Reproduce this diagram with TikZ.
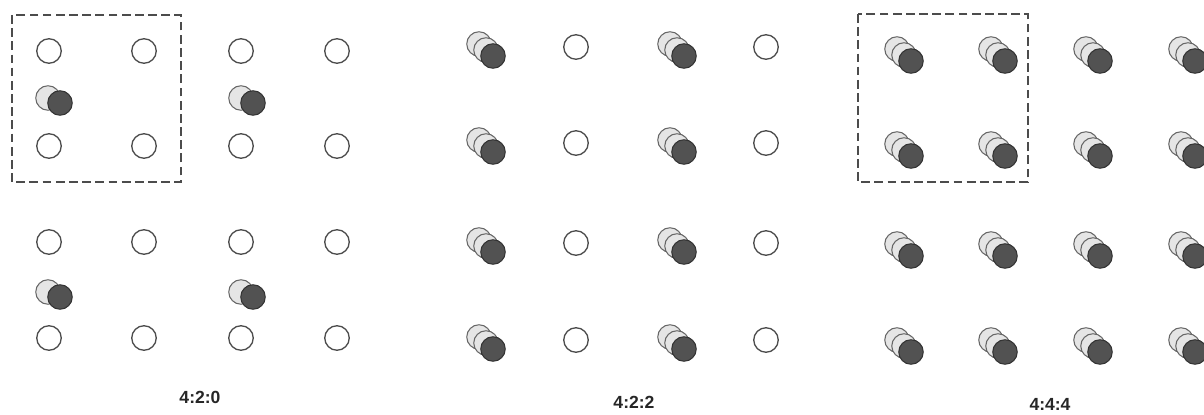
\documentclass[tikz,border=0pt]{standalone}
\usepackage{fontspec}
\setsansfont{Liberation Sans}
\usetikzlibrary{positioning}
\tikzset{
  % Sampling grids
  lumadot/.style    = { circle, draw=black!70, line width=0.75pt, fill=white,
                        minimum size=0.49cm, inner sep=0 },
  chromalight/.style= { circle, draw=black!60, line width=0.6pt, fill=gray!20,
                        minimum size=0.49cm, inner sep=0 },
  chromadark/.style = { circle, draw=black!80, line width=0.6pt, fill=black!68,
                        minimum size=0.49cm, inner sep=0 },
  samplebox/.style  = { dashed, dash pattern=on 5pt off 2.5pt, line width=0.9pt, black!70 },
  schemelabel/.style= { font=\sffamily\bfseries\fontsize{10}{12}\selectfont, text=black!85 }
}

\begin{document}
\begin{tikzpicture}[x=0.02cm, y=-0.02cm]

  \useasboundingbox (0,0) rectangle (1204,415);

  % --- 4:2:0 -----------------------------------------------------------
  \draw[samplebox] (12,15) rectangle (181,182);
  \foreach \x [count=\i] in {49,144,241,337}
    \foreach \y [count=\j] in {51,146,242,338}
      \node[lumadot] (a-\i-\j) at (\x,\y) {};
  \foreach \x [count=\i] in {48,241}
    \foreach \y [count=\j] in {98,292} {
      \node[chromalight] (ac-\i-\j) at (\x,\y) {};
      \node[chromadark]  (ad-\i-\j) at (\x+12,\y+5) {};
    }
  \node[schemelabel] (lbl420) at (200,397) {4:2:0};

  % --- 4:2:2 -----------------------------------------------------------
  \foreach \x [count=\i] in {576,766}
    \foreach \y [count=\j] in {47,143,243,340}
      \node[lumadot] (b-\i-\j) at (\x,\y) {};
  \foreach \x [count=\i] in {479,670}
    \foreach \y [count=\j] in {44,140,240,337} {
      \node[chromalight] (bc-\i-\j) at (\x,\y) {};
      \node[chromalight] (bb-\i-\j) at (\x+7,\y+6) {};
      \node[chromadark]  (bd-\i-\j) at (\x+14,\y+12) {};
    }
  \node[schemelabel] (lbl422) at (634,402) {4:2:2};

  % --- 4:4:4 -----------------------------------------------------------
  \draw[samplebox] (858,14) rectangle (1028,182);
  \foreach \x [count=\i] in {897,991,1086,1181}
    \foreach \y [count=\j] in {49,144,244,340} {
      \node[chromalight] (cc-\i-\j) at (\x,\y) {};
      \node[chromalight] (cb-\i-\j) at (\x+7,\y+6) {};
      \node[chromadark]  (cd-\i-\j) at (\x+14,\y+12) {};
    }
  \node[schemelabel] (lbl444) at (1050,404) {4:4:4};

\end{tikzpicture}
\end{document}
